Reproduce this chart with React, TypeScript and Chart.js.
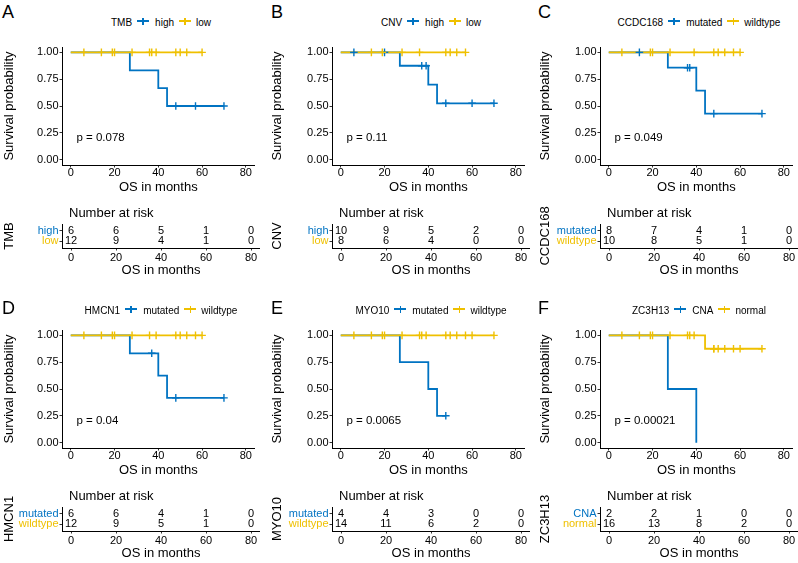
import React, { useEffect, useRef } from 'react';
import { Chart, registerables } from 'chart.js';

Chart.register(...registerables);

const FONT = '"Liberation Sans", Arial, Helvetica, sans-serif';
const BLUE = '#0073C2';
const YELLOW = '#EFC000';

// shared axes
const riskTimes = [0, 20, 40, 60, 80];
const xTicks = [0, 20, 40, 60, 80];
const yTicks = [0, 0.25, 0.5, 0.75, 1];

// A: TMB
const tmbHighTimes = [0, 27, 40, 44, 70];
const tmbHighSurv = [1, 0.833, 0.667, 0.5, 0.5];
const tmbHighCensor = [48, 57, 70];
const tmbHighRisk = [6, 6, 5, 1, 0];
const tmbLowTimes = [0, 60];
const tmbLowSurv = [1, 1];
const tmbLowCensor = [6, 14, 19, 20, 28, 36, 37, 39, 48, 50, 53, 60];
const tmbLowRisk = [12, 9, 4, 1, 0];

// B: CNV
const cnvHighTimes = [0, 27, 40, 44, 70];
const cnvHighSurv = [1, 0.875, 0.7, 0.525, 0.525];
const cnvHighCensor = [6, 20, 37, 39, 48, 60, 70];
const cnvHighRisk = [10, 9, 5, 2, 0];
const cnvLowTimes = [0, 57];
const cnvLowSurv = [1, 1];
const cnvLowCensor = [14, 19, 28, 36, 48, 50, 53, 57];
const cnvLowRisk = [8, 6, 4, 0, 0];

// C: CCDC168
const ccdcMutTimes = [0, 27, 40, 44, 70];
const ccdcMutSurv = [1, 0.857, 0.643, 0.429, 0.429];
const ccdcMutCensor = [14, 36, 37, 48, 70];
const ccdcMutRisk = [8, 7, 4, 1, 0];
const ccdcWildTimes = [0, 60];
const ccdcWildSurv = [1, 1];
const ccdcWildCensor = [6, 19, 20, 28, 39, 48, 50, 53, 57, 60];
const ccdcWildRisk = [10, 8, 5, 1, 0];

// D: HMCN1
const hmcnMutTimes = [0, 27, 40, 44, 70];
const hmcnMutSurv = [1, 0.833, 0.625, 0.417, 0.417];
const hmcnMutCensor = [37, 48, 70];
const hmcnMutRisk = [6, 6, 4, 1, 0];
const hmcnWildTimes = [0, 60];
const hmcnWildSurv = [1, 1];
const hmcnWildCensor = [6, 14, 19, 20, 28, 36, 39, 48, 50, 53, 57, 60];
const hmcnWildRisk = [12, 9, 5, 1, 0];

// E: MYO10
const myoMutTimes = [0, 27, 40, 44, 48];
const myoMutSurv = [1, 0.75, 0.5, 0.25, 0.25];
const myoMutCensor = [48];
const myoMutRisk = [4, 4, 3, 0, 0];
const myoWildTimes = [0, 70];
const myoWildSurv = [1, 1];
const myoWildCensor = [6, 14, 19, 20, 28, 36, 37, 39, 48, 50, 53, 57, 60, 70];
const myoWildRisk = [14, 11, 6, 2, 0];

// F: ZC3H13
const zcCnaTimes = [0, 27, 40];
const zcCnaSurv = [1, 0.5, 0];
const zcCnaCensor: number[] = [];
const zcCnaRisk = [2, 2, 1, 0, 0];
const zcNormTimes = [0, 44, 70];
const zcNormSurv = [1, 0.875, 0.875];
const zcNormCensor = [6, 14, 19, 20, 28, 36, 37, 39, 48, 48, 50, 53, 57, 60, 70];
const zcNormRisk = [16, 13, 8, 2, 0];

const pValues = ['p = 0.078', 'p = 0.11', 'p = 0.049', 'p = 0.04', 'p = 0.0065', 'p = 0.00021'];

type Group = { name: string; color: string; times: number[]; surv: number[]; censor: number[]; risk: number[] };
type PanelDef = { letter: string; variable: string; pval: string; col: number; row: number; groups: Group[] };

const g = (name: string, color: string, times: number[], surv: number[], censor: number[], risk: number[]): Group => ({
  name, color, times, surv, censor, risk,
});

const panels: PanelDef[] = [
  { letter: 'A', variable: 'TMB', pval: pValues[0], col: 0, row: 0, groups: [
    g('high', BLUE, tmbHighTimes, tmbHighSurv, tmbHighCensor, tmbHighRisk),
    g('low', YELLOW, tmbLowTimes, tmbLowSurv, tmbLowCensor, tmbLowRisk)] },
  { letter: 'B', variable: 'CNV', pval: pValues[1], col: 1, row: 0, groups: [
    g('high', BLUE, cnvHighTimes, cnvHighSurv, cnvHighCensor, cnvHighRisk),
    g('low', YELLOW, cnvLowTimes, cnvLowSurv, cnvLowCensor, cnvLowRisk)] },
  { letter: 'C', variable: 'CCDC168', pval: pValues[2], col: 2, row: 0, groups: [
    g('mutated', BLUE, ccdcMutTimes, ccdcMutSurv, ccdcMutCensor, ccdcMutRisk),
    g('wildtype', YELLOW, ccdcWildTimes, ccdcWildSurv, ccdcWildCensor, ccdcWildRisk)] },
  { letter: 'D', variable: 'HMCN1', pval: pValues[3], col: 0, row: 1, groups: [
    g('mutated', BLUE, hmcnMutTimes, hmcnMutSurv, hmcnMutCensor, hmcnMutRisk),
    g('wildtype', YELLOW, hmcnWildTimes, hmcnWildSurv, hmcnWildCensor, hmcnWildRisk)] },
  { letter: 'E', variable: 'MYO10', pval: pValues[4], col: 1, row: 1, groups: [
    g('mutated', BLUE, myoMutTimes, myoMutSurv, myoMutCensor, myoMutRisk),
    g('wildtype', YELLOW, myoWildTimes, myoWildSurv, myoWildCensor, myoWildRisk)] },
  { letter: 'F', variable: 'ZC3H13', pval: pValues[5], col: 2, row: 1, groups: [
    g('CNA', BLUE, zcCnaTimes, zcCnaSurv, zcCnaCensor, zcCnaRisk),
    g('normal', YELLOW, zcNormTimes, zcNormSurv, zcNormCensor, zcNormRisk)] },
];

// layout geometry (pixels)
const COL_LEFT = [0, 268, 536];
const AXIS_X = [62, 332, 600];
const PLOT_RIGHT = [260, 530, 798];
const ROW_SHIFT = [0, 283];
const LETTER_X = [2, 271, 538];
const LETTER_TOP = [2, 298];
const LEGEND_Y = [22.7, 310.7];
const PVAL_X = 2.6;
const PVAL_Y = 0.2;

const survAt = (times: number[], surv: number[], t: number) => {
  let v = surv[0];
  for (let i = 0; i < times.length; i++) if (times[i] <= t) v = surv[i];
  return v;
};

const pvalPlugin = {
  id: 'pvalText',
  afterDatasetsDraw(chart: any) {
    const text = chart.options.plugins.pvalText?.text;
    if (!text) return;
    const { ctx, scales } = chart;
    ctx.save();
    ctx.font = `11.5px ${FONT}`;
    ctx.fillStyle = '#000';
    ctx.textAlign = 'left';
    ctx.textBaseline = 'middle';
    ctx.fillText(text, scales.x.getPixelForValue(PVAL_X), scales.y.getPixelForValue(PVAL_Y));
    ctx.restore();
  },
};

const riskTextPlugin = {
  id: 'riskText',
  afterDatasetsDraw(chart: any) {
    const { ctx } = chart;
    ctx.save();
    ctx.font = `11px ${FONT}`;
    ctx.fillStyle = '#000';
    ctx.textAlign = 'center';
    ctx.textBaseline = 'middle';
    chart.data.datasets.forEach((ds: any, i: number) => {
      const meta = chart.getDatasetMeta(i);
      meta.data.forEach((pt: any, j: number) => {
        ctx.fillText(String(ds.riskLabels[j]), pt.x, pt.y);
      });
    });
    ctx.restore();
  },
};

const xAxis = (height: number, titlePad: number, tickPad: number) => ({
  type: 'linear',
  min: -4,
  max: 84,
  afterBuildTicks: (s: any) => { s.ticks = xTicks.map((v) => ({ value: v })); },
  ticks: { color: '#000', font: { family: FONT, size: 11, lineHeight: 1 }, padding: tickPad, maxRotation: 0, autoSkip: false,
    callback: (v: any) => String(v) },
  grid: { display: true, drawOnChartArea: false, drawTicks: true, tickLength: 2.5, color: '#333', tickWidth: 1 },
  border: { display: true, color: '#000', width: 1 },
  title: { display: true, text: 'OS in months', color: '#000', font: { family: FONT, size: 13 }, padding: { top: 0, bottom: titlePad } },
  afterFit: (s: any) => { s.height = height; },
});

function kmConfig(p: PanelDef): any {
  const datasets: any[] = [];
  p.groups.forEach((gr, gi) => {
    datasets.push({
      data: gr.times.map((t, i) => ({ x: t, y: gr.surv[i] })),
      showLine: true,
      stepped: true,
      borderColor: gr.color,
      borderWidth: 1.8,
      pointRadius: 0,
      order: gi === 0 ? 3 : 2,
    });
    datasets.push({
      data: gr.censor.map((t) => ({ x: t, y: survAt(gr.times, gr.surv, t) })),
      showLine: false,
      pointStyle: 'cross',
      pointRadius: 3.8,
      borderColor: gr.color,
      backgroundColor: gr.color,
      borderWidth: 1.4,
      order: gi === 0 ? 1 : 0,
    });
  });
  const yWidth = AXIS_X[p.col] - COL_LEFT[p.col];
  return {
    type: 'scatter',
    data: { datasets },
    options: {
      responsive: false,
      animation: false,
      events: [],
      layout: { padding: { top: 17, left: 0, right: 0, bottom: 0 } },
      plugins: { legend: { display: false }, tooltip: { enabled: false }, pvalText: { text: p.pval } },
      scales: {
        x: xAxis(32, 2.2, 0),
        y: {
          type: 'linear',
          min: -0.05,
          max: 1.05,
          afterBuildTicks: (s: any) => { s.ticks = yTicks.map((v) => ({ value: v })); },
          ticks: { color: '#000', font: { family: FONT, size: 11 }, padding: 1, callback: (v: any) => Number(v).toFixed(2) },
          grid: { display: true, drawOnChartArea: false, drawTicks: true, tickLength: 2.5, color: '#333', tickWidth: 1 },
          border: { display: true, color: '#000', width: 1 },
          title: { display: true, text: 'Survival probability', color: '#000', font: { family: FONT, size: 13 }, padding: { top: 1.4, bottom: 0 } },
          afterFit: (s: any) => { s.width = yWidth; },
        },
      },
    },
    plugins: [pvalPlugin],
  };
}

function riskConfig(p: PanelDef, padTop: number): any {
  const datasets = p.groups.map((gr, gi) => ({
    data: riskTimes.map((t) => ({ x: t, y: gi === 0 ? 2 : 1 })),
    riskLabels: gr.risk,
    showLine: false,
    pointRadius: 0,
  }));
  const yWidth = AXIS_X[p.col] - COL_LEFT[p.col];
  return {
    type: 'scatter',
    data: { datasets },
    options: {
      responsive: false,
      animation: false,
      events: [],
      layout: { padding: { top: padTop, left: 0, right: 0, bottom: 0 } },
      plugins: { legend: { display: false }, tooltip: { enabled: false } },
      scales: {
        x: xAxis(32, 1.7, 1.5),
        y: {
          type: 'linear',
          min: 0.4,
          max: 2.6,
          afterBuildTicks: (s: any) => { s.ticks = [{ value: 1 }, { value: 2 }]; },
          ticks: {
            font: { family: FONT, size: 11 },
            padding: 1,
            color: (c: any) => (c.tick && c.tick.value === 2 ? p.groups[0].color : p.groups[1].color),
            callback: (v: any) => (v === 2 ? p.groups[0].name : p.groups[1].name),
          },
          grid: { display: true, drawOnChartArea: false, drawTicks: true, tickLength: 2.5, color: '#333', tickWidth: 1 },
          border: { display: true, color: '#000', width: 1 },
          title: { display: true, text: p.variable, color: '#000', font: { family: FONT, size: 13 }, padding: { top: 1.2, bottom: 0 } },
          afterFit: (s: any) => { s.width = yWidth; },
        },
      },
    },
    plugins: [riskTextPlugin],
  };
}

function LegendSymbol({ color }: { color: string }) {
  return (
    <span style={{ position: 'relative', display: 'inline-block', width: 12, height: 12 }}>
      <span style={{ position: 'absolute', left: 0, top: 5.25, width: 12, height: 1.5, background: color }} />
      <span style={{ position: 'absolute', left: 5.25, top: 2.5, width: 1.5, height: 7, background: color }} />
    </span>
  );
}

function Panel({ p }: { p: PanelDef }) {
  const kmRef = useRef<HTMLCanvasElement>(null);
  const riskRef = useRef<HTMLCanvasElement>(null);
  const shift = ROW_SHIFT[p.row];
  const left = COL_LEFT[p.col];
  const width = PLOT_RIGHT[p.col] - left;
  const kmTop = 30 + shift;
  const kmHeight = 167;
  const riskTop = 196 + shift;
  const riskHeight = 84;
  const riskAreaTop = 224 + shift;

  useEffect(() => {
    const km = new Chart(kmRef.current as HTMLCanvasElement, kmConfig(p));
    const rk = new Chart(riskRef.current as HTMLCanvasElement, riskConfig(p, riskAreaTop - riskTop));
    return () => {
      km.destroy();
      rk.destroy();
    };
  }, [p]);

  const plotCenter = (AXIS_X[p.col] + PLOT_RIGHT[p.col]) / 2;

  return (
    <>
      <canvas ref={kmRef} width={width} height={kmHeight}
        style={{ position: 'absolute', left, top: kmTop, width, height: kmHeight, display: 'block' }} />
      <canvas ref={riskRef} width={width} height={riskHeight}
        style={{ position: 'absolute', left, top: riskTop, width, height: riskHeight, display: 'block' }} />
      <div style={{ position: 'absolute', left: LETTER_X[p.col], top: LETTER_TOP[p.row], fontSize: 18, lineHeight: '20px', fontFamily: FONT, color: '#000' }}>
        {p.letter}
      </div>
      <div style={{ position: 'absolute', left: plotCenter - 150, width: 300, top: LEGEND_Y[p.row] - 6, height: 12,
        display: 'flex', justifyContent: 'center', alignItems: 'center', fontSize: 10, lineHeight: '12px', fontFamily: FONT, color: '#000', whiteSpace: 'nowrap' }}>
        <span>{p.variable}</span>
        <span style={{ marginLeft: 5 }}><LegendSymbol color={p.groups[0].color} /></span>
        <span style={{ marginLeft: 6 }}>{p.groups[0].name}</span>
        <span style={{ marginLeft: 5 }}><LegendSymbol color={p.groups[1].color} /></span>
        <span style={{ marginLeft: 5 }}>{p.groups[1].name}</span>
      </div>
      <div style={{ position: 'absolute', left: AXIS_X[p.col] + 7, top: 204.8 + shift, fontSize: 13, lineHeight: '15px', fontFamily: FONT, color: '#000', whiteSpace: 'nowrap' }}>
        Number at risk
      </div>
    </>
  );
}

export default function App() {
  return (
    <div style={{ position: 'fixed', left: 0, top: 0, width: 798, height: 563, overflow: 'hidden', background: '#fff' }}>
      {panels.map((p) => (
        <Panel key={p.letter} p={p} />
      ))}
    </div>
  );
}
